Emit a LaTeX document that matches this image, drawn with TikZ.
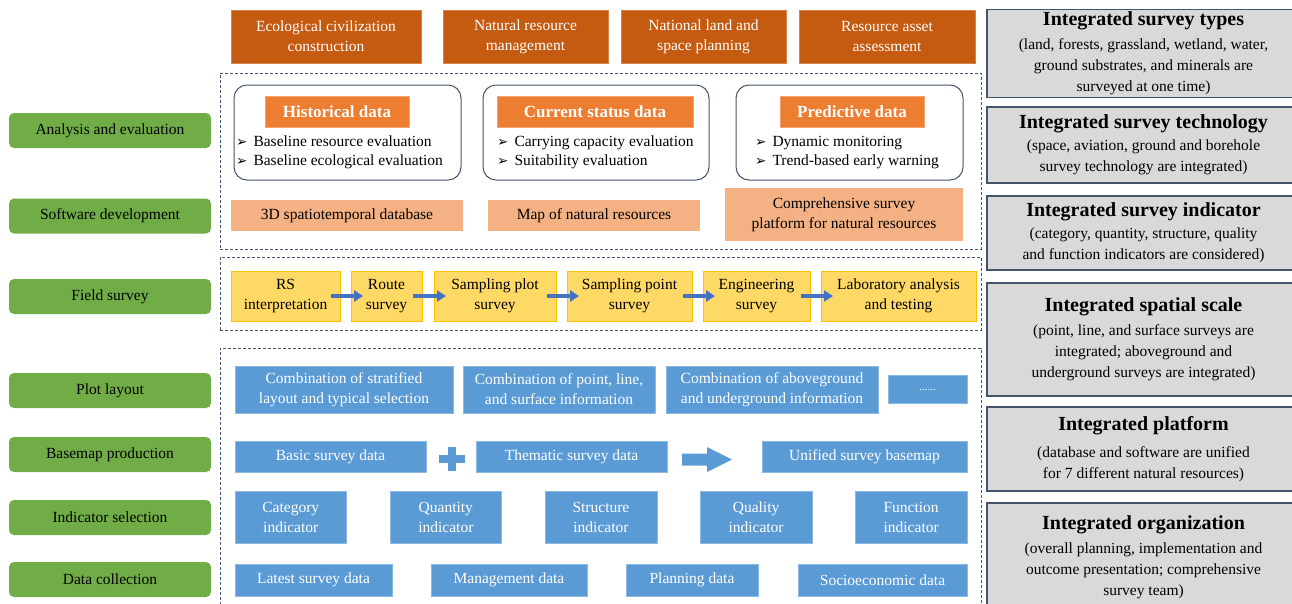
\documentclass[tikz,border=0pt]{standalone}
\usepackage{fontspec}
\setmainfont{Liberation Serif}
\newfontfamily\symbolfont{DejaVu Sans}
\usepackage{tikz}
\usetikzlibrary{positioning}
\usetikzlibrary {arrows.meta}
\definecolor{goalorange}{RGB}{197,90,17}
\definecolor{headorange}{RGB}{237,125,49}
\definecolor{lightorange}{RGB}{244,177,131}
\definecolor{levelgreen}{RGB}{112,173,71}
\definecolor{stepyellow}{RGB}{255,217,102}
\definecolor{stepborder}{RGB}{255,192,0}
\definecolor{itemblue}{RGB}{91,155,213}
\definecolor{arrowblue}{RGB}{68,114,196}
\definecolor{featgray}{RGB}{217,217,217}
\definecolor{slateline}{RGB}{68,84,106}
\newcommand{\listmark}{{\symbolfont\fontsize{13.5}{13.5}\selectfont ➢}\hspace{6pt}}
\newcommand{\feattitle}[1]{{\fontsize{20}{24}\selectfont\bfseries #1}}
\tikzset{basefont/.style={font=\fontsize{15.5}{20}\selectfont}}
\tikzset{goalbox/.style={rectangle,draw=goalorange!75!white,fill=goalorange,text=white,
inner sep=2pt,outer sep=0pt,minimum height=53pt,align=center,basefont}}
\tikzset{levelbox/.style={rectangle,rounded corners=5pt,fill=levelgreen,
inner sep=2pt,outer sep=0pt,minimum height=35pt,minimum width=202pt,basefont}}
\tikzset{groupbox/.style={rectangle,draw=slateline,line width=0.9pt,dash pattern=on 3pt off 2pt,
inner sep=0pt,outer sep=0pt}}
\tikzset{databox/.style={rectangle,rounded corners=13pt,draw=slateline,line width=1pt,fill=white,
inner sep=0pt,outer sep=0pt,minimum height=95pt}}
\tikzset{headbox/.style={rectangle,draw=headorange!70!white,fill=headorange,text=white,
inner sep=2pt,outer sep=0pt,minimum height=31pt,font=\fontsize{17}{20}\selectfont\bfseries}}
\tikzset{bulletlist/.style={inner sep=0pt,align=left,font=\fontsize{15.5}{19}\selectfont}}
\tikzset{productbox/.style={rectangle,fill=lightorange,inner sep=2pt,outer sep=0pt,
minimum height=31pt,align=center,basefont}}
\tikzset{stepbox/.style={rectangle,draw=stepborder,line width=1pt,fill=stepyellow,
inner sep=2pt,outer sep=0pt,minimum height=50pt,align=center,basefont}}
\tikzset{itembox/.style={rectangle,draw=itemblue!70!white,fill=itemblue,text=white,
inner sep=2pt,outer sep=0pt,align=center,basefont}}
\tikzset{featbox/.style={rectangle,draw=slateline,line width=1.2pt,fill=featgray,
inner sep=2pt,outer sep=0pt,minimum width=313pt,align=center,font=\fontsize{15.5}{21}\selectfont}}
\tikzset{flowarrow/.style={draw=arrowblue,line width=3.5pt,
-{Triangle[length=9pt,width=11pt]},shorten <=-9pt,shorten >=-12pt}}

\begin{document}
\begin{tikzpicture}[x=1pt,y=-1pt]
    \useasboundingbox (0,0) rectangle (1292,603);
    \clip (0,0) rectangle (1292,603);

        \node[goalbox, minimum width=190pt] (goalA) at (326,36.5) {Ecological civilization\\construction};
        \node[goalbox, minimum width=165pt] (goalB) at (525.5,36.5) {Natural resource\\management};
        \node[goalbox, minimum width=165pt] (goalC) at (703.5,36.5) {National land and\\space planning};
        \node[goalbox, minimum width=176pt] (goalD) at (887,36.5) {Resource asset\\assessment};

        \node[levelbox] (levelA) at (110,130.5) {Analysis and evaluation};
        \node[levelbox] (levelB) at (110,216) {Software development};
        \node[levelbox] (levelC) at (110,296.5) {Field survey};
        \node[levelbox] (levelD) at (110,390.5) {Plot layout};
        \node[levelbox] (levelE) at (110,454.5) {Basemap production};
        \node[levelbox] (levelF) at (110,517.5) {Indicator selection};
        \node[levelbox] (levelG) at (110,579.5) {Data collection};

        \node[groupbox, minimum width=761pt, minimum height=176pt] (groupA) at (600.5,161) {};
        \node[groupbox, minimum width=761pt, minimum height=73pt] (groupB) at (600.5,293.5) {};
        \node[groupbox, minimum width=761pt, minimum height=264pt] (groupC) at (600.5,480) {};

        \node[databox, minimum width=227pt] (dataA) at (347.5,132.5) {};
        \node[databox, minimum width=226pt] (dataB) at (596,132.5) {};
        \node[databox, minimum width=227pt] (dataC) at (849.5,132.5) {};

        \node[headbox, minimum width=144pt] (headA) at (337,111.5) {Historical data};
        \node[headbox, minimum width=196pt] (headB) at (595,111.5) {Current status data};
        \node[headbox, minimum width=144pt] (headC) at (852,111.5) {Predictive data};

        \node[bulletlist, anchor=west] (listA) at (236,152.5) {\listmark Baseline resource evaluation\\\listmark Baseline ecological evaluation};
        \node[bulletlist, anchor=west] (listB) at (497,152.5) {\listmark Carrying capacity evaluation\\\listmark Suitability evaluation};
        \node[bulletlist, anchor=west] (listC) at (755,152.5) {\listmark Dynamic monitoring\\\listmark Trend-based early warning};

        \node[productbox, minimum width=232pt] (prodA) at (347,215.5) {3D spatiotemporal database};
        \node[productbox, minimum width=212pt] (prodB) at (594,215.5) {Map of natural resources};
        \node[productbox, minimum width=238pt, minimum height=53pt] (prodC) at (844,214.5) {Comprehensive survey\\platform for natural resources};

        \node[stepbox, minimum width=109pt] (stepA) at (285.5,296) {RS\\interpretation};
        \node[stepbox, minimum width=71pt] (stepB) [right=11pt of stepA] {Route\\survey};
        \node[stepbox, minimum width=122pt] (stepC) [right=12pt of stepB] {Sampling plot\\survey};
        \node[stepbox, minimum width=125pt] (stepD) [right=11pt of stepC] {Sampling point\\survey};
        \node[stepbox, minimum width=107pt] (stepE) [right=11pt of stepD] {Engineering\\survey};
        \node[stepbox, minimum width=155pt] (stepF) [right=11pt of stepE] {Laboratory analysis\\and testing};
        \draw[flowarrow] (stepA) -- (stepB);
        \draw[flowarrow] (stepB) -- (stepC);
        \draw[flowarrow] (stepC) -- (stepD);
        \draw[flowarrow] (stepD) -- (stepE);
        \draw[flowarrow] (stepE) -- (stepF);

        \node[itembox, minimum width=218pt, minimum height=47pt] (layoutA) at (344,389.5) {Combination of stratified\\layout and typical selection};
        \node[itembox, minimum width=192pt, minimum height=47pt] (layoutB) [right=10pt of layoutA] {Combination of point, line,\\and surface information};
        \node[itembox, minimum width=212pt, minimum height=47pt] (layoutC) [right=11pt of layoutB] {Combination of aboveground\\and underground information};
        \node[itembox, minimum width=79pt, minimum height=28pt] (layoutD) [right=10pt of layoutC] {\fontsize{11}{11}\selectfont ......};

        \node[itembox, minimum width=191pt, minimum height=31pt] (mapA) at (330.5,456.5) {Basic survey data};
        \node[itembox, minimum width=191pt, minimum height=31pt] (mapB) at (571.5,456.5) {Thematic survey data};
        \node[itembox, minimum width=205pt, minimum height=31pt] (mapC) at (864.5,456.5) {Unified survey basemap};
        \fill[itemblue] (439,455) rectangle (465,463);
        \fill[itemblue] (448,447) rectangle (456,471);
        \fill[itemblue] (682,453.5) -- (707,453.5) -- (707,447) -- (732,459.5) -- (707,472) -- (707,465.5) -- (682,465.5) -- cycle;

        \node[itembox, minimum width=111.5pt, minimum height=52pt] (indA) at (290.75,517) {Category\\indicator};
        \node[itembox, minimum width=111.5pt, minimum height=52pt] (indB) [right=43.6pt of indA] {Quantity\\indicator};
        \node[itembox, minimum width=111.5pt, minimum height=52pt] (indC) [right=43.6pt of indB] {Structure\\indicator};
        \node[itembox, minimum width=111.5pt, minimum height=52pt] (indD) [right=43.6pt of indC] {Quality\\indicator};
        \node[itembox, minimum width=111.5pt, minimum height=52pt] (indE) [right=43.6pt of indD] {Function\\indicator};

        \node[itembox, minimum width=157pt, minimum height=32pt] (collA) at (313.5,580) {Latest survey data};
        \node[itembox, minimum width=156pt, minimum height=32pt] (collB) [right=39pt of collA] {Management data};
        \node[itembox, minimum width=132pt, minimum height=32pt] (collC) [right=39pt of collB] {Planning data};
        \node[itembox, minimum width=169pt, minimum height=32pt] (collD) [right=40pt of collC] {Socioeconomic data};

        \node[featbox, minimum height=87pt] (featA) at (1143.5,53.5) {\feattitle{Integrated survey types}\\[3pt](land, forests, grassland, wetland, water,\\ground substrates, and minerals are\\surveyed at one time)};
        \node[featbox, minimum height=76pt] (featB) at (1143.5,145) {\feattitle{Integrated survey technology}\\[1pt](space, aviation, ground and borehole\\survey technology are integrated)};
        \node[featbox, minimum height=74pt] (featC) at (1143.5,233) {\feattitle{Integrated survey indicator}\\[1pt](category, quantity, structure, quality\\and function indicators are considered)};
        \node[featbox, minimum height=113pt] (featD) at (1143.5,339.5) {\feattitle{Integrated spatial scale}\\[3pt](point, line, and surface surveys are\\integrated; aboveground and\\underground surveys are integrated)};
        \node[featbox, minimum height=84pt] (featE) at (1143.5,449) {\feattitle{Integrated platform}\\[6pt](database and software are unified\\for 7 different natural resources)};
        \node[featbox, minimum height=109pt] (featF) at (1143.5,557.5) {\feattitle{Integrated organization}\\[3pt](overall planning, implementation and\\outcome presentation; comprehensive\\survey team)};

    \end{tikzpicture}
\end{document}
